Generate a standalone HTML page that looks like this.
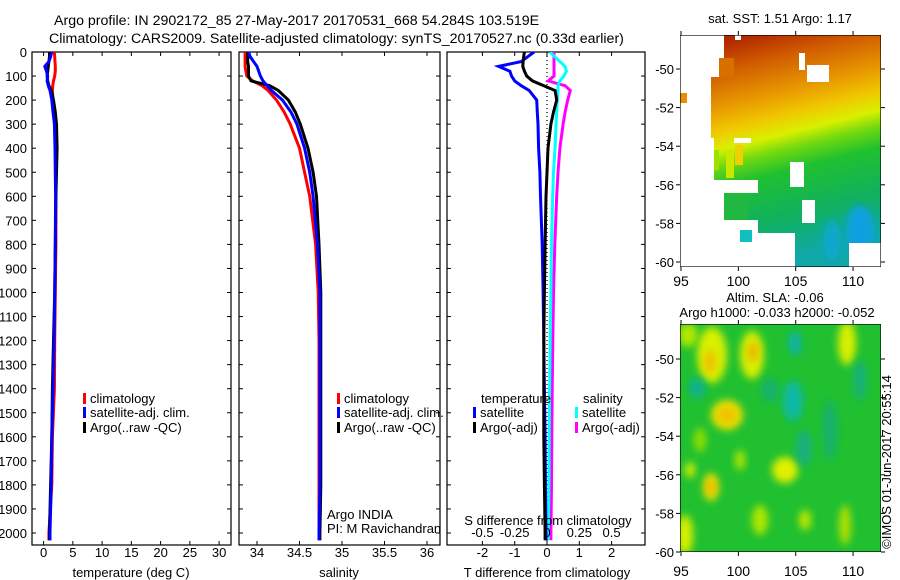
<!DOCTYPE html>
<html><head><meta charset="utf-8"><style>
html,body{margin:0;padding:0;background:#fff;}
svg{display:block;font-family:"Liberation Sans",sans-serif;font-size:13px;}
</style></head><body>
<svg id="s" width="900" height="580" viewBox="0 0 900 580">
<defs>
<clipPath id="cT"><rect x="32" y="52" width="199" height="493"/></clipPath>
<clipPath id="cS"><rect x="239" y="52" width="201" height="493"/></clipPath>
<clipPath id="cD"><rect x="447" y="52" width="198" height="493"/></clipPath>
<clipPath id="cM1"><rect x="680" y="35" width="201" height="232"/></clipPath>
<clipPath id="cM2"><rect x="680" y="324" width="201" height="228"/></clipPath>
<linearGradient id="sst" gradientUnits="userSpaceOnUse" x1="770" y1="30" x2="825" y2="250">
<stop offset="0" stop-color="#b02800"/><stop offset="0.12" stop-color="#d05a00"/>
<stop offset="0.28" stop-color="#e89a00"/><stop offset="0.38" stop-color="#f0c800"/>
<stop offset="0.46" stop-color="#d8f000"/><stop offset="0.53" stop-color="#70d810"/>
<stop offset="0.62" stop-color="#20c030"/><stop offset="0.82" stop-color="#10b060"/>
<stop offset="1" stop-color="#10a8a8"/></linearGradient>
<filter id="bl" x="-50%" y="-50%" width="200%" height="200%"><feGaussianBlur stdDeviation="4"/></filter>
</defs>
<g id="titles" font-size="14.2">
<text x="54" y="25">Argo profile: IN 2902172_85 27-May-2017 20170531_668 54.284S 103.519E</text>
<text x="49" y="43">Climatology: CARS2009. Satellite-adjusted climatology: synTS_20170527.nc (0.33d earlier)</text>
</g>
<g id="frames"></g>
<g id="series"></g>
<g id="labels"></g>
<g id="maps"></g>
</svg>
<script>
// ---- data ----
const depths = [0,20,40,60,80,100,120,140,160,200,250,300,400,500,600,800,1000,1200,1400,1600,1800,2000,2030];
const tempClim = [1.85,1.9,1.95,2.0,2.0,1.9,1.7,1.55,1.5,1.6,1.8,1.95,2.05,2.1,2.1,2.1,2.0,1.9,1.85,1.5,1.4,0.9,0.9];
const tempSat = [1.4,1.2,0.9,0.2,0.5,0.7,0.6,0.8,1.1,1.4,1.6,1.85,1.95,2.0,2.05,2.0,1.9,1.8,1.6,1.4,1.3,1.1,1.1];
const tempArgo = [1.0,1.0,0.9,0.8,0.7,0.6,0.7,0.9,1.3,1.7,2.0,2.2,2.3,2.2,2.1,2.0,1.9,1.7,1.5,1.4,1.2,1.0,1.0];
const salClim = [33.86,33.86,33.86,33.86,33.87,33.88,33.95,34.06,34.13,34.23,34.32,34.39,34.5,34.56,34.62,34.69,34.72,34.73,34.73,34.73,34.73,34.73,34.73];
const salSat = [33.9,33.92,33.96,34.0,34.02,34.04,34.07,34.12,34.17,34.3,34.4,34.47,34.56,34.62,34.66,34.71,34.74,34.74,34.74,34.74,34.74,34.73,34.73];
const salArgo = [33.89,33.89,33.89,33.9,33.9,33.9,33.93,34.15,34.25,34.37,34.45,34.51,34.6,34.66,34.7,34.73,34.75,34.75,34.75,34.75,34.75,34.74,34.74];
const dTsat = [-0.4,-0.6,-0.8,-1.5,-1.15,-1.1,-1.0,-0.8,-0.55,-0.32,-0.3,-0.28,-0.26,-0.22,-0.2,-0.15,-0.12,-0.1,-0.08,-0.06,-0.05,-0.03,-0.03];
const dTargo = [-0.7,-0.72,-0.74,-0.75,-0.7,-0.63,-0.45,-0.1,0.25,0.3,0.2,0.12,0.03,0,-0.03,-0.06,-0.08,-0.1,-0.1,-0.1,-0.08,-0.06,-0.06];
const dSsat = [0.023,0.06,0.1,0.14,0.15,0.13,0.1,0.085,0.085,0.08,0.075,0.07,0.062,0.05,0.044,0.035,0.03,0.025,0.02,0.017,0.015,0.01,0.01];
const dSargo = [0.054,0.054,0.054,0.054,0.054,0.054,0.01,0.14,0.18,0.16,0.14,0.125,0.1,0.085,0.075,0.06,0.05,0.045,0.04,0.037,0.035,0.03,0.03];
const depthTicks = [0,100,200,300,400,500,600,700,800,900,1000,1100,1200,1300,1400,1500,1600,1700,1800,1900,2000];
const tempTicks = [0,5,10,15,20,25,30];
const salTicks = [34,34.5,35,35.5,36];
const salTickLabels = ["34","34.5","35","35.5","36"];
const dTTicks = [-2,-1,0,1,2];
const dSTicks = [-0.5,-0.25,0,0.25,0.5];
const dSTickLabels = ["-0.5","-0.25","0","0.25","0.5"];
const latTicks = [-50,-52,-54,-56,-58,-60];
const lonTicks = [95,100,105,110];

// ---- scales ----
const yD = d => 52 + d*0.2405;
const xT = t => 43.6 + t*5.85;
const xS = s => 257 + (s-34)*85;
const xdT = v => 547 + v*32.3;
const xdS = v => 547 + v*129.2;
const lonX = l => 681 + (l-95)*11.47;
const latY1 = l => 69 + (-50-l)*19.3;
const latY2 = l => 359 + (-50-l)*19.3;

const NS = "http://www.w3.org/2000/svg";
function mk(tag, parent, attrs){const e=document.createElementNS(NS,tag);for(const k in attrs)e.setAttribute(k,attrs[k]);parent.appendChild(e);return e;}
const G = id => document.getElementById(id);
function txt(parent,x,y,s,anchor){const t=mk('text',parent,{x:x,y:y,'text-anchor':anchor||'start'});t.textContent=s;return t;}

const panels = [
 {x0:32,x1:231,name:'temperature-panel'},
 {x0:239,x1:440,name:'salinity-panel'},
 {x0:447,x1:645,name:'difference-panel'}];
const fr = G('frames');
panels.forEach((p,i)=>{
 const r = mk('rect',fr,{x:p.x0,y:52,width:p.x1-p.x0,height:493,fill:'none',stroke:'#000','stroke-width':1.2});
 
 
 depthTicks.forEach(d=>{
  mk('line',fr,{x1:p.x0,x2:p.x0+4,y1:yD(d),y2:yD(d),stroke:'#000'});
  mk('line',fr,{x1:p.x1,x2:p.x1-4,y1:yD(d),y2:yD(d),stroke:'#000'});
 });
});
const lb = G('labels');
depthTicks.forEach(d=>{
 const t = txt(lb,27,yD(d)+5,String(d),'end');
 
 
});
function xticks(vals,fx,labs,ylab){
 vals.forEach((v,i)=>{
  const x=fx(v);
  mk('line',fr,{x1:x,x2:x,y1:52,y2:56,stroke:'#000'});
  mk('line',fr,{x1:x,x2:x,y1:545,y2:541,stroke:'#000'});
  if(labs){const t=txt(lb,x,ylab,labs[i],'middle');
   
   }
 });
}
xticks(tempTicks,xT,tempTicks.map(String),557);
xticks(salTicks,xS,salTickLabels,557);
xticks(dTTicks,xdT,dTTicks.map(String),557);
dSTicks.forEach((v,i)=>{const t=txt(lb,xdS(v),537,dSTickLabels[i],'middle');
 
 });

const sg = G('series');
mk('line',sg,{x1:xdT(0),x2:xdT(0),y1:52,y2:545,stroke:'#000','stroke-dasharray':'1 3','stroke-width':1.2});
function line(vals,fx,color,clip,name){
 const pts = vals.map((v,i)=>fx(v).toFixed(1)+','+yD(depths[i]).toFixed(1)).join(' ');
 const pl = mk('polyline',sg,{points:pts,fill:'none',stroke:color,'stroke-width':3,'stroke-linejoin':'miter','clip-path':'url(#'+clip+')'});
 
 
}
line(tempClim,xT,'#f00','cT','temp-climatology-line');
line(tempArgo,xT,'#000','cT','temp-argo-line');
line(tempSat,xT,'#00f','cT','temp-satellite-line');
line(salClim,xS,'#f00','cS','sal-climatology-line');
line(salArgo,xS,'#000','cS','sal-argo-line');
line(salSat,xS,'#00f','cS','sal-satellite-line');
line(dSargo,xdS,'#f0f','cD','s-diff-argo-line');
line(dSsat,xdS,'#0ff','cD','s-diff-satellite-line');
line(dTsat,xdT,'#00f','cD','t-diff-satellite-line');
line(dTargo,xdT,'#000','cD','t-diff-argo-line');

function leg(x,y,color,label,name){
 const g=mk('g',lb,{});
 
 
 mk('rect',g,{x:x,y:y-10,width:3,height:11,fill:color});
 txt(g,x+7,y,label);
}
leg(83,403,'#f00','climatology','legend-climatology');
leg(83,417,'#00f','satellite-adj. clim.','legend-satellite-adj');
leg(83,432,'#000','Argo(..raw -QC)','legend-argo');
leg(337,403,'#f00','climatology','legend-sal-climatology');
leg(337,417,'#00f','satellite-adj. clim.','legend-sal-satellite-adj');
leg(337,432,'#000','Argo(..raw -QC)','legend-sal-argo');
txt(lb,481,403,'temperature');
txt(lb,583,403,'salinity');
leg(473,417,'#00f','satellite','legend-t-satellite');
leg(473,432,'#000','Argo(-adj)','legend-t-argo');
leg(575,417,'#0ff','satellite','legend-s-satellite');
leg(575,432,'#f0f','Argo(-adj)','legend-s-argo');
txt(lb,327,519,'Argo INDIA');
txt(lb,327,533,'PI: M Ravichandran');
txt(lb,548,525,'S difference from climatology','middle');
txt(lb,131,577,'temperature (deg C)','middle');
txt(lb,339,577,'salinity','middle');
txt(lb,547,577,'T difference from climatology','middle');

const mg = G('maps');
const m1 = mk('g',mg,{'clip-path':'url(#cM1)'});


mk('rect',m1,{x:680,y:35,width:201,height:232,fill:'url(#sst)'});
mk('ellipse',m1,{cx:860,cy:230,rx:14,ry:25,fill:'#10a0e0',filter:'url(#bl)'});
mk('ellipse',m1,{cx:832,cy:240,rx:8,ry:20,fill:'#10a8d0',filter:'url(#bl)'});
const whites=[[680,35,44,25],[680,60,39,17],[680,77,31,16],[687,93,24,10],[680,103,31,42],[680,138,34,62],[680,145,34,55],[680,180,44,87],[724,220,34,47],[724,180,34,13],[758,233,37,34],[849,243,32,24],[807,65,22,17],[799,53,6,17],[790,162,14,25],[802,200,13,23],[735,35,6,5],[734,138,17,5],[685,162,22,6]];
whites.forEach(w=>mk('rect',m1,{x:w[0],y:w[1],width:w[2],height:w[3],fill:'#fff'}));
mk('rect',m1,{x:719,y:58,width:15,height:19,fill:'#d87000'});
mk('rect',m1,{x:680,y:93,width:7,height:10,fill:'#e89000'});
mk('rect',m1,{x:714,y:150,width:5,height:20,fill:'#a0e000'});
mk('rect',m1,{x:726,y:150,width:8,height:28,fill:'#c8e800'});
mk('rect',m1,{x:735,y:145,width:8,height:20,fill:'#f0d000'});
mk('rect',m1,{x:724,y:195,width:24,height:25,fill:'#20b840'});
mk('rect',m1,{x:740,y:230,width:12,height:12,fill:'#10c0c0'});
mk('rect',m1,{x:680,y:35,width:201,height:232,fill:'none',stroke:'#000','stroke-width':1.2});
const m2 = mk('g',mg,{'clip-path':'url(#cM2)'});


mk('rect',m2,{x:680,y:324,width:201,height:228,fill:'#20c030'});
const blobs=[[712,355,15,28,'#d8f000'],[710,362,6,12,'#f0c000'],[752,355,12,24,'#d8f000'],[753,352,5,10,'#f0b000'],[727,415,16,15,'#e8e000'],[727,415,9,8,'#f0c000'],[785,470,13,13,'#e0f000'],[711,487,8,14,'#e8e000'],[711,487,4,7,'#f0b000'],[847,343,9,22,'#d8f000'],[685,535,8,20,'#d8f000'],[688,335,10,12,'#b0e800'],[793,401,10,20,'#10b8a8'],[795,343,6,12,'#10b0b0'],[697,388,8,10,'#10b090'],[804,448,8,18,'#18b080'],[770,390,8,12,'#18b070'],[830,430,7,30,'#18b070'],[760,520,8,15,'#b0e800'],[805,520,6,10,'#c0e800'],[845,525,6,20,'#b0e000'],[860,380,6,20,'#18b080'],[700,440,6,12,'#90e000'],[740,460,5,10,'#b0e800'],[690,470,5,8,'#d0f000']];
blobs.forEach(b=>mk('ellipse',m2,{cx:b[0],cy:b[1],rx:b[2],ry:b[3],fill:b[4],filter:'url(#bl)'}));
mk('rect',m2,{x:680,y:324,width:201,height:228,fill:'none',stroke:'#000','stroke-width':1.2});
function mapAxes(top,bot,latY,yl){
 latTicks.forEach(l=>{const y=latY(l);
  mk('line',mg,{x1:676,x2:680,y1:y,y2:y,stroke:'#000'});
  mk('line',mg,{x1:881,x2:885,y1:y,y2:y,stroke:'#000'});
  const t=txt(mg,674,y+5,String(l),'end');
  
  });
 lonTicks.forEach(l=>{const x=lonX(l);
  mk('line',mg,{x1:x,x2:x,y1:top-4,y2:top,stroke:'#000'});
  mk('line',mg,{x1:x,x2:x,y1:bot,y2:bot+4,stroke:'#000'});
  const t=txt(mg,x,yl,String(l),'middle');
  
  
  t.setAttribute('font-size','14');});
}
mapAxes(35,267,latY1,286);
mapAxes(324,552,latY2,576);
txt(mg,780,23,'sat. SST: 1.51 Argo: 1.17','middle');
txt(mg,775,302,'Altim. SLA: -0.06','middle');
txt(mg,777,317,'Argo h1000: -0.033 h2000: -0.052','middle');
const im=txt(mg,0,0,'©IMOS 01-Jun-2017 20:55:14','middle');
im.setAttribute('transform','translate(891,462) rotate(-90)');


</script>
</body></html>
